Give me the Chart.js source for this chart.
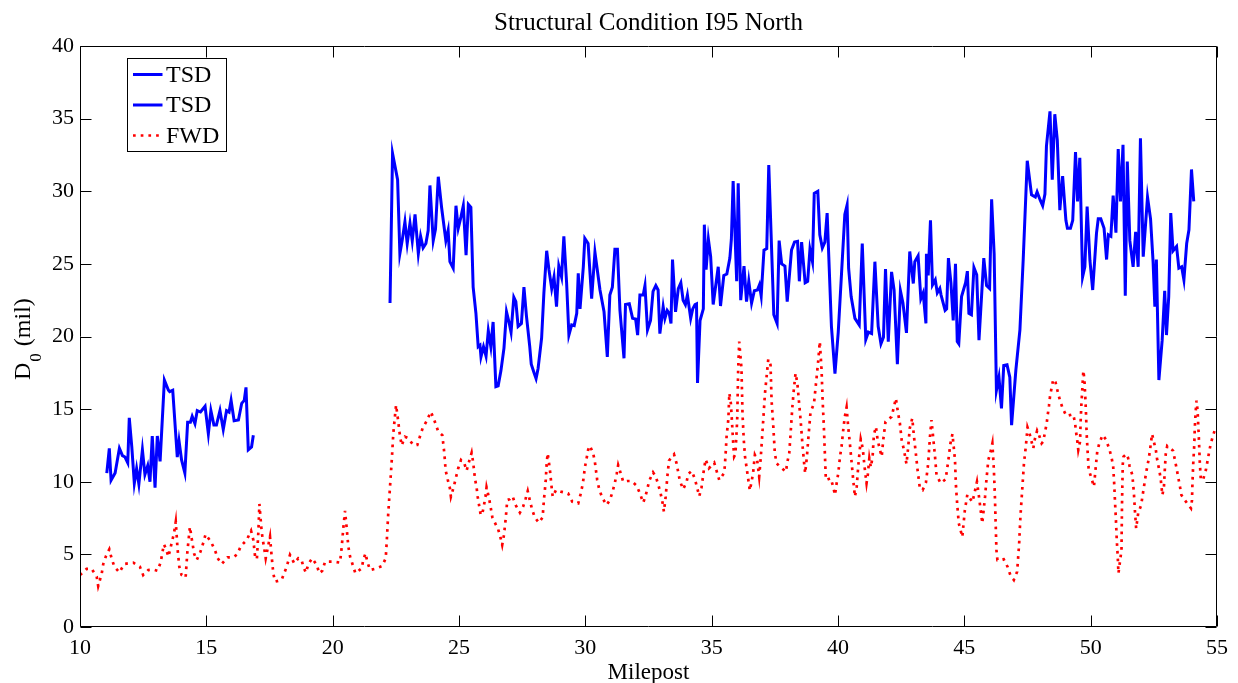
<!DOCTYPE html>
<html>
<head>
<meta charset="utf-8">
<script src="https://cdn.jsdelivr.net/npm/chart.js@4.4.0/dist/chart.umd.min.js"></script>
<style>
html, body { margin: 0; padding: 0; background: #fff; }
#chart { display: block; }
</style>
</head>
<body>
<canvas id="chart" width="1238" height="683"></canvas>
<script>
const titleText = 'Structural Condition I95 North';
const xTitle = 'Milepost';
const seriesLabels = ['TSD', 'TSD', 'FWD'];

const xTicks = [10, 15, 20, 25, 30, 35, 40, 45, 50, 55];
const yTicks = [0, 5, 10, 15, 20, 25, 30, 35, 40];

// TSD, first run
const tsdMile1 = [11.06, 11.16, 11.23, 11.39, 11.56, 11.68, 11.78, 11.89, 11.95, 12.05, 12.15, 12.24, 12.33, 12.47, 12.57, 12.68, 12.77, 12.86, 12.97, 13.06, 13.17, 13.34, 13.5, 13.55, 13.67, 13.85, 13.92, 14.02, 14.15, 14.26, 14.37, 14.44, 14.55, 14.64, 14.77, 14.95, 15.08, 15.18, 15.3, 15.4, 15.54, 15.67, 15.8, 15.9, 15.98, 16.1, 16.27, 16.4, 16.5, 16.57, 16.66, 16.79, 16.86];
const tsdD1 = [10.6, 12.3, 10.1, 10.6, 12.3, 11.8, 11.7, 11.3, 14.4, 12.4, 9.9, 10.9, 9.85, 12.2, 10.5, 11.1, 10.0, 13.15, 9.6, 13.15, 11.4, 17.0, 16.3, 16.2, 16.3, 11.7, 12.8, 11.5, 10.6, 14.1, 14.1, 14.5, 14.0, 14.9, 14.8, 15.2, 13.3, 14.9, 13.9, 13.9, 14.9, 13.6, 14.9, 14.8, 15.6, 14.2, 14.25, 15.4, 15.6, 16.5, 12.2, 12.4, 13.2];

// TSD, second run
const tsdMile2 = [22.27, 22.37, 22.57, 22.66, 22.75, 22.86, 22.95, 23.06, 23.15, 23.26, 23.39, 23.48, 23.58, 23.69, 23.78, 23.85, 23.98, 24.07, 24.18, 24.31, 24.48, 24.57, 24.64, 24.77, 24.88, 24.97, 25.08, 25.17, 25.28, 25.37, 25.47, 25.56, 25.67, 25.76, 25.83, 25.87, 25.97, 26.07, 26.16, 26.26, 26.35, 26.46, 26.55, 26.66, 26.78, 26.88, 26.99, 27.06, 27.17, 27.25, 27.34, 27.47, 27.57, 27.67, 27.8, 27.86, 27.97, 28.05, 28.13, 28.27, 28.36, 28.47, 28.56, 28.67, 28.76, 28.86, 28.95, 29.06, 29.15, 29.26, 29.35, 29.46, 29.56, 29.66, 29.72, 29.79, 29.92, 29.98, 30.11, 30.25, 30.38, 30.58, 30.74, 30.87, 30.97, 31.07, 31.17, 31.27, 31.37, 31.53, 31.59, 31.74, 31.87, 31.99, 32.07, 32.16, 32.29, 32.36, 32.46, 32.58, 32.68, 32.79, 32.88, 32.95, 33.08, 33.15, 33.24, 33.32, 33.39, 33.45, 33.57, 33.68, 33.78, 33.87, 33.96, 34.04, 34.17, 34.25, 34.34, 34.4, 34.44, 34.54, 34.67, 34.71, 34.78, 34.87, 34.96, 35.06, 35.26, 35.35, 35.48, 35.6, 35.72, 35.78, 35.85, 35.99, 36.05, 36.15, 36.28, 36.38, 36.47, 36.58, 36.69, 36.81, 36.89, 36.96, 37.07, 37.18, 37.26, 37.46, 37.59, 37.67, 37.77, 37.9, 37.99, 38.16, 38.28, 38.4, 38.47, 38.56, 38.7, 38.8, 38.89, 38.99, 39.06, 39.2, 39.28, 39.38, 39.48, 39.57, 39.74, 39.88, 40.01, 40.14, 40.27, 40.36, 40.42, 40.52, 40.67, 40.84, 40.96, 41.1, 41.2, 41.33, 41.46, 41.59, 41.7, 41.8, 41.88, 41.99, 42.12, 42.22, 42.35, 42.47, 42.57, 42.71, 42.84, 42.98, 43.04, 43.17, 43.28, 43.37, 43.48, 43.5, 43.57, 43.66, 43.74, 43.85, 43.93, 44.03, 44.08, 44.24, 44.3, 44.37, 44.47, 44.56, 44.65, 44.72, 44.78, 44.89, 45.05, 45.12, 45.18, 45.28, 45.38, 45.49, 45.58, 45.77, 45.88, 46.0, 46.08, 46.18, 46.27, 46.37, 46.47, 46.56, 46.69, 46.8, 46.87, 47.04, 47.2, 47.33, 47.49, 47.66, 47.81, 47.88, 48.0, 48.1, 48.19, 48.25, 48.39, 48.48, 48.58, 48.68, 48.78, 48.89, 49.02, 49.08, 49.2, 49.29, 49.4, 49.48, 49.57, 49.68, 49.77, 49.86, 49.97, 50.08, 50.23, 50.3, 50.4, 50.53, 50.63, 50.7, 50.8, 50.89, 51.0, 51.09, 51.18, 51.28, 51.37, 51.45, 51.55, 51.68, 51.78, 51.88, 51.97, 52.08, 52.25, 52.37, 52.47, 52.54, 52.6, 52.7, 52.83, 52.93, 53.0, 53.09, 53.17, 53.26, 53.4, 53.49, 53.6, 53.69, 53.8, 53.89, 53.99, 54.08];
const tsdD2 = [22.3, 32.6, 30.8, 25.7, 26.6, 27.9, 26.4, 27.8, 26.6, 28.4, 25.7, 26.9, 26.1, 26.4, 27.3, 30.4, 26.6, 27.4, 31.0, 28.9, 26.6, 27.3, 25.15, 24.7, 29.0, 27.45, 28.25, 29.0, 25.6, 29.1, 28.9, 23.4, 21.6, 19.3, 19.4, 18.6, 19.3, 18.65, 20.4, 19.3, 21.0, 16.55, 16.6, 17.65, 19.2, 21.7, 20.9, 20.3, 22.7, 22.4, 20.7, 20.9, 23.4, 21.4, 19.3, 18.1, 17.5, 17.1, 17.8, 19.9, 23.0, 25.9, 24.6, 23.3, 24.1, 22.05, 24.85, 24.1, 26.9, 23.65, 20.1, 20.8, 20.75, 21.6, 24.35, 21.9, 24.8, 26.75, 26.4, 22.6, 25.8, 23.2, 21.7, 18.6, 22.85, 23.4, 26.0, 26.0, 21.8, 18.5, 22.2, 22.25, 21.25, 21.2, 20.1, 22.85, 22.85, 23.5, 20.45, 21.1, 23.1, 23.5, 23.2, 20.2, 22.05, 21.25, 21.8, 21.6, 20.9, 25.3, 21.7, 23.3, 23.7, 22.5, 22.2, 22.85, 21.25, 21.9, 22.2, 22.25, 16.8, 21.1, 21.9, 27.7, 24.6, 26.7, 25.5, 22.2, 24.8, 22.1, 24.2, 24.3, 25.4, 26.7, 30.7, 23.8, 30.55, 22.5, 24.85, 22.4, 23.8, 22.3, 23.15, 23.2, 23.55, 22.8, 25.95, 26.05, 31.8, 21.5, 20.9, 26.6, 25.0, 24.85, 22.4, 25.95, 26.5, 26.55, 23.8, 26.5, 23.7, 23.8, 26.0, 25.15, 29.85, 30.0, 27.0, 26.1, 26.5, 28.5, 20.7, 17.45, 20.3, 24.35, 28.4, 29.05, 24.7, 22.75, 21.25, 20.8, 26.4, 19.8, 20.3, 20.2, 25.15, 20.7, 19.5, 19.95, 24.65, 19.65, 24.45, 23.2, 18.1, 23.15, 22.3, 20.25, 25.85, 23.65, 25.15, 25.55, 22.6, 23.0, 20.9, 25.7, 24.2, 28.0, 23.55, 23.9, 23.0, 23.3, 22.85, 21.8, 21.9, 25.4, 23.7, 21.1, 25.0, 19.65, 19.5, 22.75, 23.7, 24.5, 21.6, 21.5, 24.75, 24.25, 19.75, 25.4, 23.5, 23.3, 29.45, 25.7, 16.3, 17.2, 15.05, 18.0, 18.05, 17.2, 13.9, 17.7, 20.45, 25.3, 32.1, 29.75, 29.6, 29.95, 29.4, 29.0, 29.8, 33.1, 35.5, 30.8, 35.3, 33.5, 28.7, 31.05, 28.0, 27.45, 27.45, 28.0, 32.7, 29.3, 32.3, 24.1, 24.8, 28.95, 25.25, 23.2, 27.1, 28.1, 28.1, 27.45, 25.3, 27.0, 26.9, 29.7, 27.15, 32.9, 29.3, 33.2, 22.8, 32.05, 26.6, 24.8, 27.2, 24.8, 33.65, 25.5, 29.6, 28.1, 25.15, 22.05, 25.3, 17.0, 19.75, 23.15, 20.1, 22.75, 28.5, 25.9, 26.2, 24.7, 24.8, 23.9, 26.4, 27.35, 31.5, 29.3];

// FWD
const fwdMile = [10.0, 10.26, 10.46, 10.66, 10.72, 10.86, 10.92, 11.03, 11.16, 11.25, 11.36, 11.56, 11.75, 12.11, 12.37, 12.5, 12.7, 12.9, 13.07, 13.19, 13.32, 13.4, 13.5, 13.63, 13.72, 13.79, 13.86, 13.93, 14.02, 14.18, 14.25, 14.35, 14.42, 14.52, 14.62, 14.77, 14.88, 14.97, 15.18, 15.34, 15.45, 15.61, 15.84, 16.07, 16.22, 16.37, 16.6, 16.77, 16.86, 16.93, 17.0, 17.06, 17.1, 17.19, 17.23, 17.29, 17.35, 17.52, 17.58, 17.65, 17.72, 17.98, 18.18, 18.31, 18.48, 18.64, 18.77, 18.84, 18.94, 19.04, 19.19, 19.37, 19.47, 19.59, 19.7, 20.03, 20.29, 20.36, 20.42, 20.49, 20.55, 20.62, 20.69, 20.9, 21.15, 21.21, 21.3, 21.37, 21.48, 21.67, 21.96, 22.1, 22.14, 22.2, 22.27, 22.34, 22.4, 22.47, 22.51, 22.6, 22.64, 22.73, 22.86, 22.99, 23.19, 23.35, 23.46, 23.56, 23.74, 23.88, 23.99, 24.18, 24.34, 24.42, 24.47, 24.55, 24.64, 24.68, 24.8, 24.88, 24.97, 25.08, 25.21, 25.3, 25.39, 25.5, 25.56, 25.63, 25.7, 25.74, 25.8, 25.86, 25.92, 25.99, 26.05, 26.09, 26.19, 26.26, 26.32, 26.42, 26.55, 26.65, 26.71, 26.78, 26.85, 26.91, 27.01, 27.12, 27.24, 27.41, 27.54, 27.64, 27.72, 27.8, 27.9, 28.0, 28.16, 28.31, 28.36, 28.43, 28.47, 28.51, 28.6, 28.67, 28.71, 28.84, 29.03, 29.32, 29.48, 29.72, 29.81, 29.89, 29.94, 29.98, 30.05, 30.11, 30.18, 30.31, 30.38, 30.47, 30.55, 30.67, 30.84, 30.97, 31.08, 31.17, 31.24, 31.3, 31.4, 31.5, 31.66, 31.83, 32.03, 32.16, 32.29, 32.38, 32.45, 32.53, 32.68, 32.79, 32.89, 32.98, 33.06, 33.11, 33.18, 33.24, 33.31, 33.51, 33.61, 33.74, 33.87, 34.01, 34.07, 34.21, 34.34, 34.43, 34.51, 34.6, 34.69, 34.76, 34.89, 35.1, 35.3, 35.5, 35.55, 35.59, 35.66, 35.7, 35.76, 35.8, 35.84, 35.89, 35.94, 36.01, 36.05, 36.09, 36.18, 36.22, 36.27, 36.32, 36.38, 36.47, 36.51, 36.58, 36.64, 36.71, 36.8, 36.88, 36.94, 37.02, 37.11, 37.24, 37.33, 37.37, 37.44, 37.5, 37.57, 37.7, 37.94, 37.99, 38.07, 38.12, 38.19, 38.25, 38.32, 38.39, 38.45, 38.52, 38.6, 38.66, 38.7, 38.77, 38.82, 38.91, 39.05, 39.15, 39.22, 39.28, 39.35, 39.39, 39.44, 39.48, 39.52, 39.71, 39.81, 39.88, 39.95, 40.01, 40.08, 40.14, 40.21, 40.27, 40.34, 40.4, 40.47, 40.53, 40.6, 40.67, 40.74, 40.8, 40.9, 40.98, 41.05, 41.13, 41.18, 41.24, 41.3, 41.37, 41.42, 41.5, 41.57, 41.66, 41.73, 41.79, 41.88, 42.12, 42.21, 42.29, 42.38, 42.45, 42.52, 42.61, 42.71, 42.78, 42.84, 42.94, 43.0, 43.08, 43.15, 43.24, 43.35, 43.48, 43.57, 43.64, 43.7, 43.77, 43.84, 43.9, 44.06, 44.26, 44.36, 44.45, 44.53, 44.63, 44.67, 44.72, 44.78, 44.92, 45.02, 45.12, 45.32, 45.4, 45.5, 45.58, 45.71, 45.82, 45.88, 45.95, 46.04, 46.11, 46.17, 46.21, 46.24, 46.27, 46.31, 46.56, 46.71, 46.82, 46.96, 47.09, 47.17, 47.22, 47.29, 47.36, 47.44, 47.5, 47.57, 47.66, 47.73, 47.79, 47.88, 47.96, 48.06, 48.12, 48.19, 48.26, 48.3, 48.35, 48.39, 48.45, 48.52, 48.61, 48.69, 48.78, 48.89, 49.04, 49.31, 49.38, 49.42, 49.47, 49.51, 49.58, 49.6, 49.63, 49.67, 49.71, 49.75, 49.79, 49.82, 49.84, 49.88, 49.92, 50.03, 50.13, 50.19, 50.26, 50.34, 50.47, 50.6, 50.73, 50.82, 50.89, 50.93, 50.96, 51.0, 51.03, 51.07, 51.1, 51.22, 51.24, 51.27, 51.3, 51.42, 51.48, 51.54, 51.65, 51.71, 51.75, 51.8, 51.88, 52.0, 52.05, 52.11, 52.16, 52.22, 52.29, 52.34, 52.43, 52.5, 52.58, 52.63, 52.7, 52.77, 52.8, 52.84, 52.9, 52.93, 52.97, 53.03, 53.26, 53.33, 53.4, 53.46, 53.53, 53.59, 53.77, 53.97, 54.01, 54.03, 54.06, 54.1, 54.12, 54.16, 54.19, 54.23, 54.28, 54.32, 54.36, 54.45, 54.56, 54.62, 54.68, 54.75, 54.85, 54.96];
const fwdD = [3.58, 4.0, 4.0, 3.47, 2.82, 3.68, 4.34, 4.89, 5.35, 4.73, 4.15, 3.76, 4.34, 4.43, 4.15, 3.58, 3.92, 3.95, 3.87, 4.43, 5.69, 5.4, 4.84, 5.8, 6.45, 7.25, 5.4, 4.15, 3.58, 3.4, 5.19, 6.9, 6.1, 5.03, 4.61, 5.2, 5.8, 6.38, 5.87, 5.3, 4.73, 4.34, 4.8, 4.8, 5.0, 5.58, 5.99, 6.63, 5.99, 4.84, 4.66, 6.57, 8.47, 6.57, 6.06, 5.42, 4.73, 6.22, 4.96, 3.7, 3.12, 3.24, 4.15, 4.96, 4.38, 4.73, 4.6, 4.15, 3.74, 4.34, 4.73, 4.27, 3.7, 3.87, 4.5, 4.5, 4.43, 5.53, 6.79, 8.0, 6.9, 5.53, 4.84, 3.7, 4.04, 4.61, 5.07, 4.5, 3.92, 4.0, 4.2, 4.73, 5.87, 7.83, 9.66, 11.5, 13.33, 14.6, 15.28, 14.1, 13.45, 12.5, 13.1, 13.0, 12.53, 12.53, 13.15, 13.68, 14.25, 14.82, 14.4, 13.45, 13.2, 11.96, 10.8, 10.17, 9.55, 8.97, 9.71, 10.3, 10.93, 11.5, 11.27, 10.76, 11.34, 12.0, 11.34, 10.24, 9.55, 8.97, 8.33, 7.71, 7.76, 8.4, 9.0, 9.62, 8.86, 8.17, 7.55, 7.18, 6.73, 6.1, 5.65, 6.33, 7.48, 8.74, 8.8, 9.0, 8.4, 7.87, 8.3, 8.86, 9.36, 8.74, 8.05, 7.55, 7.18, 7.55, 8.74, 10.0, 11.27, 11.96, 10.8, 9.55, 8.97, 9.43, 9.32, 9.2, 8.63, 8.51, 9.13, 9.78, 10.35, 10.97, 11.6, 12.19, 12.48, 11.96, 11.34, 10.12, 9.48, 8.9, 8.4, 8.74, 9.32, 9.94, 10.53, 11.15, 10.58, 10.0, 10.05, 10.05, 9.73, 9.2, 8.56, 9.0, 9.48, 10.07, 10.65, 10.35, 9.78, 9.2, 8.52, 7.94, 8.97, 10.24, 11.45, 11.89, 11.27, 10.07, 9.48, 10.0, 10.53, 10.74, 10.17, 9.55, 9.0, 9.62, 10.8, 11.54, 10.93, 11.31, 10.12, 10.62, 11.84, 13.1, 14.3, 16.1, 15.4, 14.25, 13.0, 11.73, 11.9, 14.25, 17.8, 19.65, 17.8, 14.7, 12.9, 11.73, 11.0, 9.9, 9.4, 10.0, 10.62, 11.84, 11.5, 10.35, 11.6, 13.68, 16.09, 18.43, 18.04, 15.63, 13.79, 11.96, 11.27, 11.04, 10.69, 11.31, 11.96, 13.22, 15.06, 16.32, 17.47, 16.8, 15.63, 14.25, 12.41, 11.27, 10.58, 11.73, 12.87, 14.75, 15.4, 17.12, 18.38, 19.65, 17.69, 15.67, 13.79, 11.96, 10.12, 10.24, 9.66, 9.09, 9.94, 10.58, 11.73, 12.41, 13.61, 14.48, 15.12, 13.84, 12.64, 11.5, 10.17, 8.97, 9.66, 11.04, 12.92, 12.3, 11.04, 9.9, 10.5, 11.61, 11.0, 11.73, 13.22, 13.79, 12.87, 12.19, 11.73, 12.87, 14.13, 14.48, 15.12, 15.74, 14.7, 14.02, 12.87, 12.19, 11.22, 12.41, 13.68, 14.37, 13.22, 11.96, 10.8, 9.55, 9.43, 9.94, 11.27, 13.1, 14.25, 12.99, 11.73, 10.46, 9.9, 10.17, 11.38, 12.64, 13.29, 11.5, 9.66, 8.4, 7.14, 6.2, 8.03, 9.12, 8.6, 9.2, 10.0, 8.97, 7.14, 8.97, 10.24, 11.5, 12.07, 12.64, 10.8, 8.97, 7.14, 5.3, 4.61, 4.66, 4.15, 3.58, 3.24, 3.81, 5.76, 7.6, 9.43, 11.27, 12.53, 13.75, 13.4, 12.76, 12.3, 12.92, 13.52, 13.2, 12.64, 12.76, 13.38, 14.02, 14.6, 15.22, 15.86, 16.43, 17.05, 16.85, 16.25, 15.63, 15.06, 14.53, 14.64, 14.07, 13.45, 12.83, 12.19, 12.76, 14.02, 15.22, 16.43, 17.65, 17.1, 15.74, 14.5, 13.33, 12.07, 10.86, 10.24, 9.66, 10.81, 12.07, 12.64, 13.22, 12.92, 12.3, 11.73, 11.08, 9.9, 8.74, 7.37, 6.1, 4.89, 3.7, 5.3, 8.4, 11.2, 11.73, 11.91, 11.65, 11.08, 10.46, 9.25, 8.05, 6.79, 7.83, 8.4, 9.0, 9.66, 10.24, 10.86, 11.5, 12.07, 13.29, 12.76, 12.19, 11.54, 10.93, 10.24, 9.7, 9.09, 9.66, 10.69, 11.89, 12.46, 12.14, 11.54, 10.93, 10.35, 9.71, 9.09, 8.63, 8.17, 8.74, 10.0, 11.27, 12.53, 13.68, 14.94, 15.58, 14.94, 13.1, 11.31, 10.12, 10.15, 10.81, 11.38, 11.96, 12.6, 13.22, 13.79];

const serif = "'Liberation Serif', 'Times New Roman', 'DejaVu Serif', serif";
Chart.defaults.font.family = serif;
Chart.defaults.color = '#000';

function toPoints(xs, ys) {
    return xs.map((x, i) => ({ x: x, y: ys[i] }));
}

const fwdDash = [2.7, 5];

// title centred over the plot box
const titlePlugin = {
    id: 'plotTitle',
    afterDraw(chart) {
        const { ctx, chartArea } = chart;
        ctx.save();
        ctx.font = '25px ' + serif;
        ctx.fillStyle = '#000';
        ctx.textAlign = 'center';
        ctx.textBaseline = 'alphabetic';
        ctx.fillText(titleText, (chartArea.left + chartArea.right) / 2, 30);
        ctx.restore();
    }
};

// y title with subscript: D0 (mil), read bottom to top
const yTitlePlugin = {
    id: 'yTitle',
    afterDraw(chart) {
        const { ctx } = chart;
        ctx.save();
        ctx.translate(30, 380);
        ctx.rotate(-Math.PI / 2);
        ctx.fillStyle = '#000';
        ctx.textBaseline = 'alphabetic';
        ctx.textAlign = 'left';
        const big = '24px ' + serif;
        const small = '17px ' + serif;
        let x = 0;
        ctx.font = big;
        ctx.fillText('D', x, 0);
        x += ctx.measureText('D').width + 1;
        ctx.font = small;
        ctx.fillText('0', x, 11);
        x += ctx.measureText('0').width + 1;
        ctx.font = big;
        ctx.fillText(' (mil)', x, 0);
        ctx.restore();
    }
};

// box round the plot with inward ticks on all four sides
const framePlugin = {
    id: 'frame',
    afterDatasetsDraw(chart) {
        const { ctx, chartArea, scales } = chart;
        const L = Math.round(chartArea.left) + 0.5;
        const R = Math.round(chartArea.right) - 0.5;
        const T = Math.round(chartArea.top) + 0.5;
        const B = Math.round(chartArea.bottom) - 0.5;
        const tl = 11;
        ctx.save();
        ctx.strokeStyle = '#000';
        ctx.lineWidth = 1;
        ctx.beginPath();
        ctx.rect(L, T, R - L, B - T);
        scales.x.ticks.forEach(t => {
            const px = Math.round(scales.x.getPixelForValue(t.value)) + 0.5;
            ctx.moveTo(px, B); ctx.lineTo(px, B - tl);
            ctx.moveTo(px, T); ctx.lineTo(px, T + tl);
        });
        scales.y.ticks.forEach(t => {
            const py = Math.round(scales.y.getPixelForValue(t.value)) + 0.5;
            ctx.moveTo(L, py); ctx.lineTo(L + tl, py);
            ctx.moveTo(R, py); ctx.lineTo(R - tl, py);
        });
        ctx.stroke();
        ctx.restore();
    }
};

// boxed legend in the upper left of the plot
const legendPlugin = {
    id: 'boxLegend',
    afterDraw(chart) {
        const { ctx, chartArea } = chart;
        const bx = chartArea.left + 47.5, by = chartArea.top + 12.5;
        const bw = 99, bh = 93, row = 30.5;
        ctx.save();
        ctx.fillStyle = '#fff';
        ctx.fillRect(bx, by, bw, bh);
        ctx.strokeStyle = '#000';
        ctx.lineWidth = 1;
        ctx.strokeRect(bx, by, bw, bh);
        ctx.font = '24px ' + serif;
        ctx.textBaseline = 'middle';
        ctx.textAlign = 'left';
        chart.data.datasets.forEach((ds, i) => {
            const yy = by + 16 + i * row;
            ctx.beginPath();
            ctx.strokeStyle = ds.borderColor;
            ctx.lineWidth = ds.borderWidth;
            ctx.setLineDash(ds.borderDash || []);
            ctx.moveTo(bx + 5.5, yy);
            ctx.lineTo(bx + 35, yy);
            ctx.stroke();
            ctx.setLineDash([]);
            ctx.fillStyle = '#000';
            ctx.fillText(ds.label, bx + 38.5, yy + 1);
        });
        ctx.restore();
    }
};

new Chart(document.getElementById('chart'), {
    type: 'line',
    data: {
        datasets: [
            {
                label: seriesLabels[0],
                data: toPoints(tsdMile1, tsdD1),
                borderColor: '#0000ff',
                borderWidth: 3,
                pointRadius: 0,
                tension: 0,
                fill: false
            },
            {
                label: seriesLabels[1],
                data: toPoints(tsdMile2, tsdD2),
                borderColor: '#0000ff',
                borderWidth: 3,
                pointRadius: 0,
                tension: 0,
                fill: false
            },
            {
                label: seriesLabels[2],
                data: toPoints(fwdMile, fwdD),
                borderColor: '#ff0000',
                borderWidth: 2.7,
                borderDash: fwdDash,
                pointRadius: 0,
                tension: 0,
                fill: false
            }
        ]
    },
    options: {
        responsive: false,
        animation: false,
        devicePixelRatio: 1,
        layout: { padding: { top: 46, right: 21, bottom: 0, left: 0 } },
        plugins: {
            legend: { display: false },
            title: { display: false },
            tooltip: { enabled: false }
        },
        scales: {
            x: {
                type: 'linear',
                min: xTicks[0],
                max: xTicks[xTicks.length - 1],
                afterBuildTicks: s => { s.ticks = xTicks.map(v => ({ value: v })); },
                afterFit: s => { s.height = 56; },
                grid: { display: false, drawTicks: false },
                border: { display: false },
                ticks: { padding: 8, maxRotation: 0, font: { size: 22 }, color: '#000' },
                title: {
                    display: true,
                    text: xTitle,
                    font: { size: 23 },
                    color: '#000',
                    padding: { top: 0, bottom: -4 }
                }
            },
            y: {
                type: 'linear',
                min: yTicks[0],
                max: yTicks[yTicks.length - 1],
                afterBuildTicks: s => { s.ticks = yTicks.map(v => ({ value: v })); },
                afterFit: s => { s.width = 80; },
                grid: { display: false, drawTicks: false },
                border: { display: false },
                ticks: { padding: 6, font: { size: 22 }, color: '#000' }
            }
        }
    },
    plugins: [framePlugin, titlePlugin, yTitlePlugin, legendPlugin]
});
</script>
</body>
</html>
